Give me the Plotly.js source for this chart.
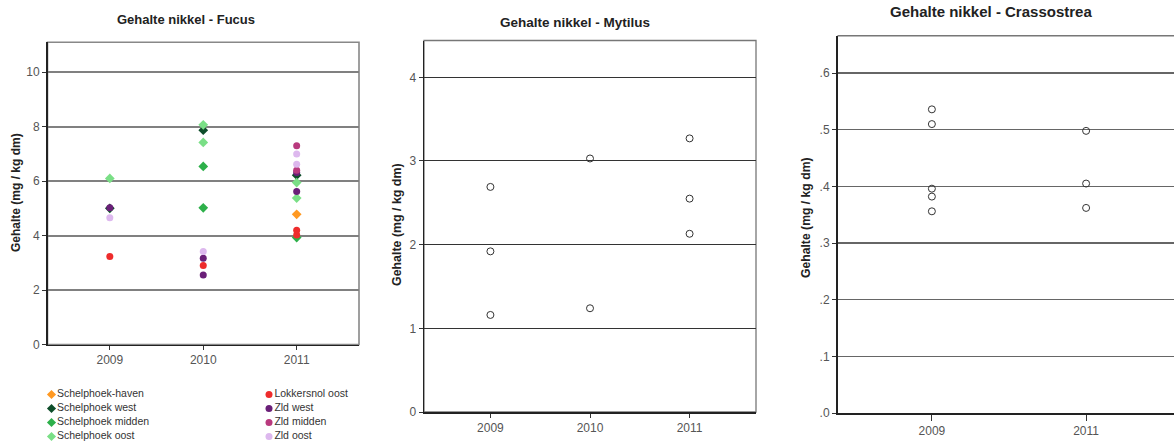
<!DOCTYPE html>
<html>
<head>
<meta charset="utf-8">
<script src="https://cdn.plot.ly/plotly-3.0.1.min.js"></script>
<style>
html,body{margin:0;padding:0;background:#fff;}
#chart{width:1174px;height:442px;}
</style>
</head>
<body>
<div id="chart"></div>
<script>
// ---------- DATA ----------
const years = ['2009', '2010', '2011'];
const crassYears = ['2009', '2011'];

// Fucus series names (legend)
const fucusSeries = ['Schelphoek-haven', 'Schelphoek west', 'Schelphoek midden', 'Schelphoek oost',
                     'Lokkersnol oost', 'Zld west', 'Zld midden', 'Zld oost'];

// Fucus values per series
const havenX = ['2011'];
const havenY = [4.78];
const westX = ['2009', '2010', '2011'];
const westY = [5.0, 7.87, 6.22];
const middenX = ['2010', '2010', '2011'];
const middenY = [6.54, 5.02, 3.93];
const oostX = ['2009', '2010', '2010', '2011', '2011'];
const oostY = [6.1, 8.07, 7.42, 5.95, 5.38];
const lokkersnolX = ['2009', '2010', '2011', '2011'];
const lokkersnolY = [3.23, 2.9, 4.2, 4.02];
const zldWestX = ['2009', '2010', '2010', '2011', '2011'];
const zldWestY = [5.02, 3.17, 2.55, 6.32, 5.62];
const zldMiddenX = ['2011', '2011'];
const zldMiddenY = [7.3, 6.4];
const zldOostX = ['2009', '2010', '2011', '2011'];
const zldOostY = [4.66, 3.42, 7.0, 6.62];

// Mytilus
const mytilusX = ['2009', '2009', '2009', '2010', '2010', '2011', '2011', '2011'];
const mytilusY = [2.69, 1.92, 1.16, 3.03, 1.24, 3.27, 2.55, 2.13];

// Crassostrea
const crassX = ['2009', '2009', '2009', '2009', '2009', '2011', '2011', '2011'];
const crassY = [0.536, 0.510, 0.396, 0.382, 0.356, 0.498, 0.405, 0.362];

// tick labels
const fucusTicks = [0, 2, 4, 6, 8, 10];
const mytilusTicks = [0, 1, 2, 3, 4];
const crassTickVals = [0, 0.1, 0.2, 0.3, 0.4, 0.5, 0.6];
const crassTickText = ['.0', '.1', '.2', '.3', '.4', '.5', '.6'];

// titles
const titles = ['Gehalte nikkel - Fucus', 'Gehalte nikkel - Mytilus', 'Gehalte nikkel - Crassostrea'];
const yTitle = 'Gehalte (mg / kg dm)';

// ---------- STYLE ----------
const fucusX = [havenX, westX, middenX, oostX, lokkersnolX, zldWestX, zldMiddenX, zldOostX];
const fucusY = [havenY, westY, middenY, oostY, lokkersnolY, zldWestY, zldMiddenY, zldOostY];
const fucusColors = ['#FF9922', '#0E4D2A', '#2DB04A', '#7ADF86', '#EE2C2C', '#6A1F78', '#B93A7E', '#DDB8EE'];
const fucusSymbols = ['diamond', 'diamond', 'diamond', 'diamond', 'circle', 'circle', 'circle', 'circle'];

const W = 1174, H = 442;
const FONT = 'Liberation Sans, Arial, sans-serif';
const px = v => v / W;
const py = v => (H - v) / H;   // convert top-based pixel to paper y

const traces = [];
fucusSeries.forEach((name, i) => {
  traces.push({
    type: 'scatter', mode: 'markers', name: name,
    x: fucusX[i], y: fucusY[i], xaxis: 'x', yaxis: 'y',
    marker: {symbol: fucusSymbols[i], color: fucusColors[i], size: fucusSymbols[i] === 'diamond' ? 7.5 : 7,
             line: {width: 0}},
    showlegend: false, hoverinfo: 'x+y+name'
  });
});
traces.push({
  type: 'scatter', mode: 'markers', x: mytilusX, y: mytilusY, xaxis: 'x2', yaxis: 'y2',
  marker: {symbol: 'circle-open', color: '#333', size: 7, line: {width: 1}}, showlegend: false
});
traces.push({
  type: 'scatter', mode: 'markers', x: crassX, y: crassY, xaxis: 'x3', yaxis: 'y3',
  marker: {symbol: 'circle-open', color: '#333', size: 7, line: {width: 1}}, showlegend: false
});

// custom legend for Fucus drawn as a helper subplot (2 columns x 4 rows)
fucusSeries.forEach((name, i) => {
  const col = Math.floor(i / 4), row = i % 4;
  traces.push({
    type: 'scatter', mode: 'markers+text', x: [51.5 + 217.5 * col], y: [394.5 + 14 * row],
    xaxis: 'x4', yaxis: 'y4', text: [name], textposition: 'middle right',
    textfont: {family: FONT, size: 10.5, color: '#333'},
    marker: {symbol: fucusSymbols[i], color: fucusColors[i], size: 7, line: {width: 0}},
    showlegend: false, hoverinfo: 'skip', cliponaxis: false
  });
});

const tickFont = {family: FONT, size: 12, color: '#555'};

function xAx(domain, cats, range, ticklen) {
  return {domain: domain, type: 'category', categoryarray: cats, categoryorder: 'array',
    range: range, showgrid: false, zeroline: false, showline: true, linecolor: '#222', linewidth: 1.5,
    ticks: 'outside', ticklen: ticklen, tickcolor: '#333', tickwidth: 1, tickfont: tickFont, fixedrange: true};
}
function yAx(domain, range, extra, gridcolor, gridwidth) {
  return Object.assign({domain: domain, range: range, showgrid: true, gridcolor: gridcolor, gridwidth: gridwidth,
    zeroline: false, showline: true, linecolor: '#222', linewidth: 1.5, ticks: 'outside', ticklen: 4,
    tickcolor: '#333', tickwidth: 1, tickfont: tickFont, fixedrange: true}, extra);
}

const layout = {
  width: W, height: H, margin: {l: 0, r: 0, t: 0, b: 0},
  paper_bgcolor: '#fff', plot_bgcolor: '#fff', showlegend: false,
  font: {family: FONT},
  xaxis: Object.assign(xAx([px(47.5), px(359)], years, [-0.667, 2.667], 4), {anchor: 'y'}),
  yaxis: Object.assign(yAx([py(344.5), py(42.3)], [0, 11.1], {tickvals: fucusTicks}, '#808080', 1.8), {anchor: 'x'}),
  xaxis2: Object.assign(xAx([px(424), px(756)], years, [-0.667, 2.667], 4), {anchor: 'y2'}),
  yaxis2: Object.assign(yAx([py(412), py(40.5)], [0, 4.44], {tickvals: mytilusTicks}, '#333', 1), {anchor: 'x2'}),
  xaxis3: Object.assign(xAx([px(837.5), 1], crassYears, [-0.612, 1.57], 6), {anchor: 'y3'}),
  yaxis3: Object.assign(yAx([py(413), py(35.7)], [0, 0.666], {tickvals: crassTickVals, ticktext: crassTickText}, '#666', 1.4), {anchor: 'x3'}),
  xaxis4: {domain: [0, px(360)], range: [0, 360], visible: false, fixedrange: true, anchor: 'y4'},
  yaxis4: {domain: [0, 60 / H], range: [442, 382], visible: false, fixedrange: true, anchor: 'x4'},
  shapes: [
    {type: 'rect', xref: 'x domain', yref: 'y domain', x0: 0, x1: 1, y0: 0, y1: 1, layer: 'below',
     line: {color: '#888', width: 1.6}},
    {type: 'rect', xref: 'x2 domain', yref: 'y2 domain', x0: 0, x1: 1, y0: 0, y1: 1, layer: 'below',
     line: {color: '#777', width: 1.3}},
    {type: 'line', xref: 'x3 domain', yref: 'y3 domain', x0: 0, x1: 1, y0: 1, y1: 1, layer: 'below',
     line: {color: '#777', width: 1.4}}
  ],
  annotations: [
    {text: '<b>' + titles[0] + '</b>', xref: 'paper', yref: 'paper', x: px(186), y: py(19.5), showarrow: false,
     xanchor: 'center', yanchor: 'middle', font: {family: FONT, size: 13, color: '#222'}},
    {text: '<b>' + titles[1] + '</b>', xref: 'paper', yref: 'paper', x: px(574.5), y: py(22.5), showarrow: false,
     xanchor: 'center', yanchor: 'middle', font: {family: FONT, size: 13.5, color: '#222'}},
    {text: '<b>' + titles[2] + '</b>', xref: 'paper', yref: 'paper', x: px(991), y: py(11), showarrow: false,
     xanchor: 'center', yanchor: 'middle', font: {family: FONT, size: 15, color: '#222'}},
    {text: '<b>' + yTitle + '</b>', xref: 'paper', yref: 'paper', x: px(15.5), y: py(192.5), showarrow: false,
     textangle: -90, xanchor: 'center', yanchor: 'middle', font: {family: FONT, size: 12, color: '#222'}},
    {text: '<b>' + yTitle + '</b>', xref: 'paper', yref: 'paper', x: px(397), y: py(225), showarrow: false,
     textangle: -90, xanchor: 'center', yanchor: 'middle', font: {family: FONT, size: 12.4, color: '#222'}},
    {text: '<b>' + yTitle + '</b>', xref: 'paper', yref: 'paper', x: px(806), y: py(218), showarrow: false,
     textangle: -90, xanchor: 'center', yanchor: 'middle', font: {family: FONT, size: 12.2, color: '#222'}}
  ]
};

Plotly.newPlot('chart', traces, layout, {staticPlot: true, displayModeBar: false});
</script>
</body>
</html>
